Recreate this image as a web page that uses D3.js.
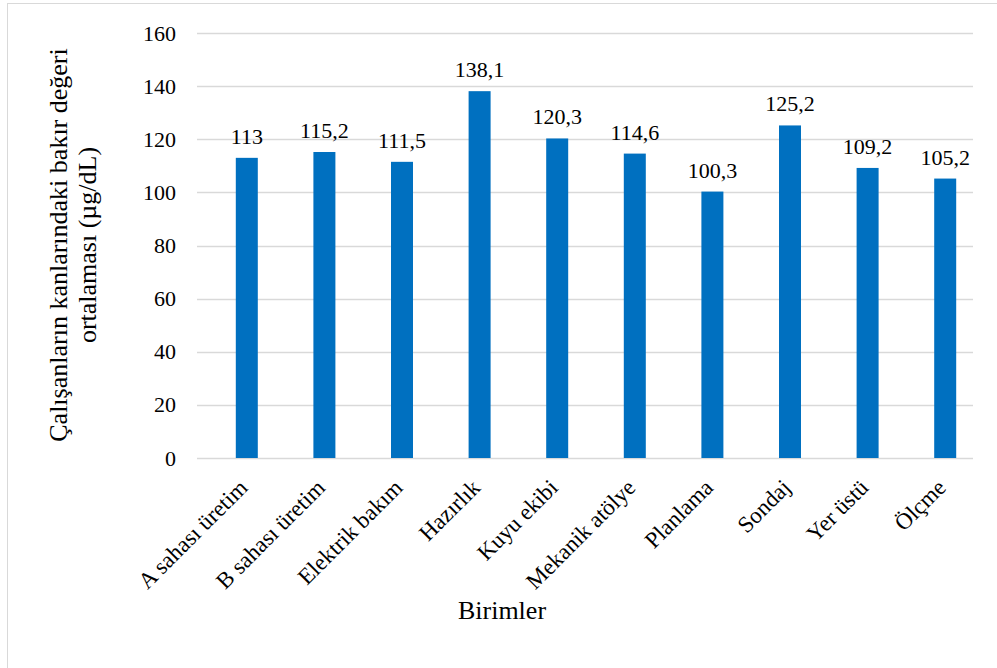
<!DOCTYPE html>
<html><head><meta charset="utf-8">
<script src="https://cdn.jsdelivr.net/npm/d3@7"></script>
</head><body style="margin:0">
<script>
const categories = ["A sahası üretim","B sahası üretim","Elektrik bakım","Hazırlık","Kuyu ekibi","Mekanik atölye","Planlama","Sondaj","Yer üstü","Ölçme"];
const values = [113,115.2,111.5,138.1,120.3,114.6,100.3,125.2,109.2,105.2];
const yTicks = [0,20,40,60,80,100,120,140,160];
const yTitle = ["Çalışanların kanlarındaki bakır değeri","ortalaması (µg/dL)"];
const xTitle = "Birimler";

const FONT = "Liberation Serif";
const W=997,H=668;
const svg=d3.select("body").append("svg").attr("width",W).attr("height",H)
  .attr("font-family",FONT).style("display","block");
svg.append("rect").attr("x",7.5).attr("y",3.5).attr("width",W).attr("height",H).attr("fill","#fff").attr("stroke","#d9d9d9");

const gx0=197,gx1=973;
const y=d3.scaleLinear().domain([0,160]).range([458,33]);
const x=d3.scaleBand().domain(categories).range([gx0+11,gx1+11]);
const bw=22;

svg.append("g").selectAll("line").data(yTicks).join("line")
 .attr("x1",gx0).attr("x2",gx1).attr("y1",d=>Math.round(y(d))+0.5).attr("y2",d=>Math.round(y(d))+0.5)
 .attr("stroke","#d9d9d9").attr("stroke-width",1.5);

const yAxis=d3.axisLeft(y).tickValues(yTicks).tickSize(0).tickPadding(21);
const ga=svg.append("g").attr("transform",`translate(${gx0},0)`).call(yAxis);
ga.select(".domain").remove();
ga.attr("font-family",FONT).attr("font-size",22);
ga.selectAll("text").attr("font-family",FONT).attr("font-size",22).attr("fill","#000");

svg.append("g").selectAll("rect").data(values).join("rect")
 .attr("x",(d,i)=>x(categories[i])+x.bandwidth()/2-bw/2).attr("width",bw)
 .attr("y",d=>y(d)).attr("height",d=>y(0)-y(d)).attr("fill","#0070C0");

svg.append("g").selectAll("text").data(values).join("text")
 .attr("x",(d,i)=>x(categories[i])+x.bandwidth()/2).attr("y",d=>y(d)-14)
 .attr("text-anchor","middle").attr("font-family",FONT).attr("font-size",22)
 .text(d=>String(d).replace(".",","));

svg.append("g").selectAll("text").data(categories).join("text")
 .attr("transform",d=>`translate(${x(d)+x.bandwidth()/2+2},${489}) rotate(-45)`)
 .attr("text-anchor","end").attr("font-family",FONT).attr("font-size",23).text(d=>d);

svg.append("text").attr("x",502).attr("y",619).attr("text-anchor","middle").attr("font-family",FONT).attr("font-size",26).text(xTitle);

const yt=svg.append("text").attr("transform","translate(0,245) rotate(-90)").attr("text-anchor","middle").attr("font-family",FONT).attr("font-size",26);
yt.append("tspan").attr("x",0).attr("y",67).text(yTitle[0]);
yt.append("tspan").attr("x",0).attr("y",96).text(yTitle[1]);
</script>
</body></html>
